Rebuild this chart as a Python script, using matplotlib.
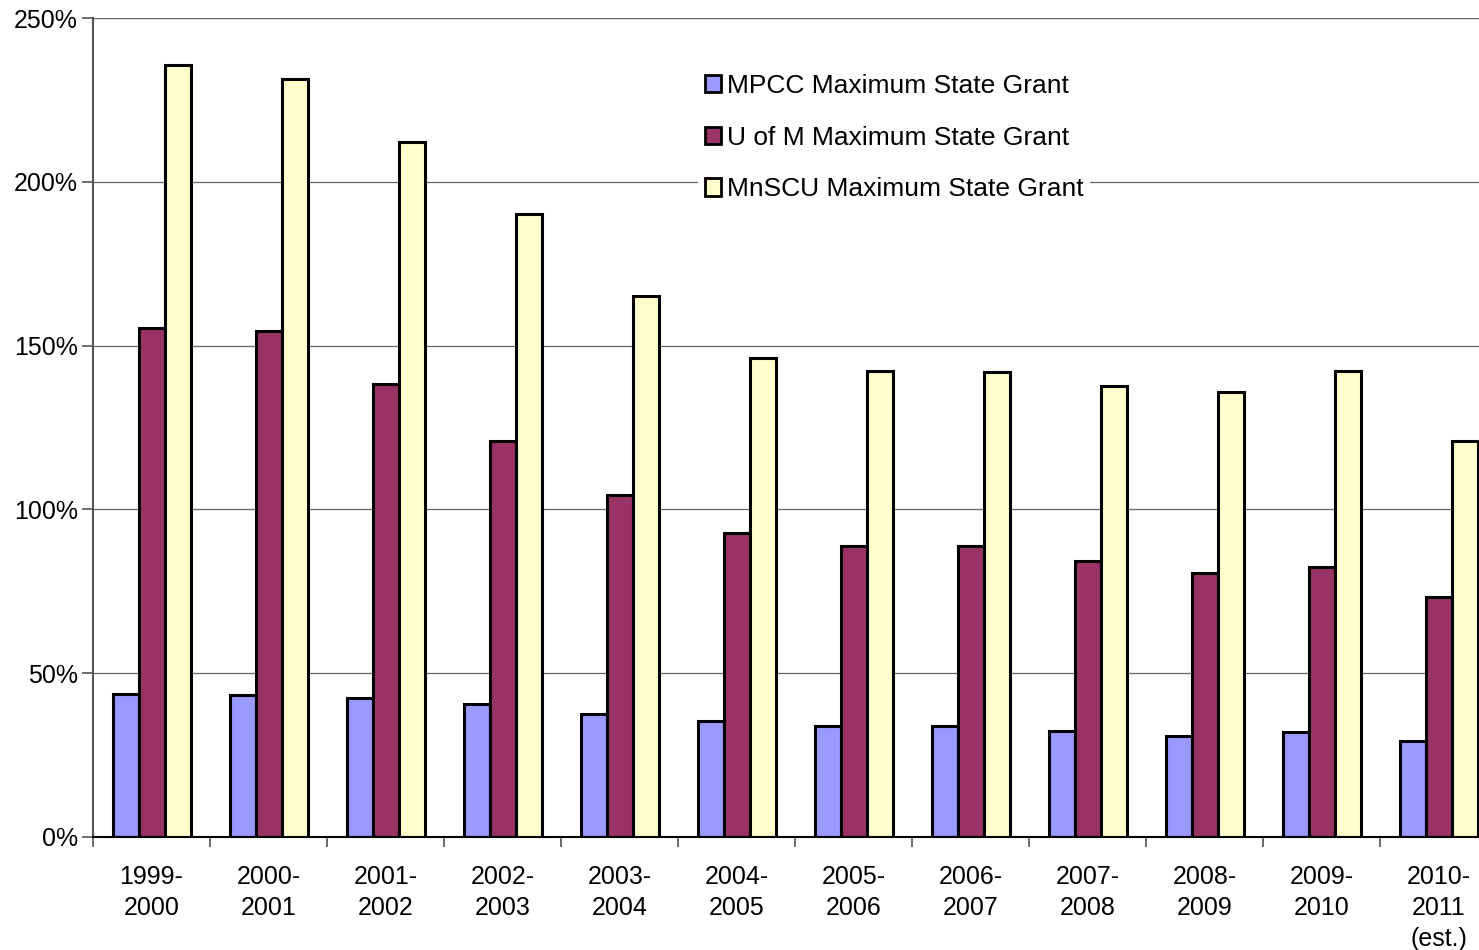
import numpy as np
import matplotlib.pyplot as plt
from matplotlib.ticker import FuncFormatter

plt.rcParams['font.family'] = ['Liberation Sans', 'DejaVu Sans']

years = ['1999-\n2000', '2000-\n2001', '2001-\n2002', '2002-\n2003', '2003-\n2004',
         '2004-\n2005', '2005-\n2006', '2006-\n2007', '2007-\n2008', '2008-\n2009',
         '2009-\n2010', '2010-\n2011\n(est.)']
mpcc = [43.6, 43.3, 42.4, 40.6, 37.5, 35.4, 33.9, 33.9, 32.4, 30.8, 32.1, 29.3]
uofm = [155.4, 154.5, 138.3, 120.9, 104.4, 92.8, 88.8, 88.8, 84.2, 80.6, 82.4, 73.3]
mnscu = [235.7, 231.4, 212.1, 190.2, 165.1, 146.2, 142.2, 141.9, 137.7, 135.8, 142.2, 120.9]
names = ['MPCC Maximum State Grant', 'U of M Maximum State Grant', 'MnSCU Maximum State Grant']
colors = ['#9999FF', '#993366', '#FFFFCC']

fig = plt.figure(figsize=(14.79, 9.5), dpi=100)
ax = fig.add_axes([93/1479, 1-837/950, 1-93/1479, (837-18)/950])

x = np.arange(len(years))
w = 1/4.5
for i, (vals, name, c) in enumerate(zip([mpcc, uofm, mnscu], names, colors)):
    ax.bar(x + (i-1)*w, vals, w, color=c, edgecolor='black', linewidth=2.2,
           label=name, zorder=3)

ax.set_ylim(0, 250)
ax.set_xlim(-0.5, 11.346)
ax.set_yticks([0, 50, 100, 150, 200, 250])
ax.yaxis.set_major_formatter(FuncFormatter(lambda v, p: f'{int(v)}%'))
ax.yaxis.grid(True, color='#666666', linewidth=0.9, zorder=0)
ax.axhline(250, color='black', linewidth=1.5, zorder=1)

# category boundaries as ticks, labels centred below
ax.set_xticks(np.arange(len(years)) - 0.5)
ax.set_xticklabels([])
ax.set_xticks(x, minor=True)
ax.set_xticklabels(years, minor=True, fontsize=18, linespacing=1.38)
ax.tick_params(axis='x', which='minor', length=0, pad=20)
ax.tick_params(axis='x', which='major', length=7, width=1.2, color='#555555')
ax.tick_params(axis='y', length=8, width=1.2, color='#555555', labelsize=18, pad=3)

for s in ['top', 'right']:
    ax.spines[s].set_visible(False)
ax.spines['left'].set_color('#555555')
ax.spines['left'].set_linewidth(1.5)
ax.spines['bottom'].set_color('black')
ax.spines['bottom'].set_linewidth(1.5)
ax.spines['bottom'].set_zorder(4)

leg = ax.legend(loc='upper left', bbox_to_anchor=(0.427, 0.956), frameon=True,
                fontsize=19, handlelength=0.62, handleheight=0.62,
                handletextpad=0.22, labelspacing=1.05, borderpad=0.25)
leg.get_frame().set_edgecolor('none')
leg.get_frame().set_facecolor('white')
leg.get_frame().set_alpha(1)
leg.get_frame().set_boxstyle('square', pad=0.0)
for p in leg.get_patches():
    p.set_linewidth(2)

fig.savefig('out.png', dpi=100)
